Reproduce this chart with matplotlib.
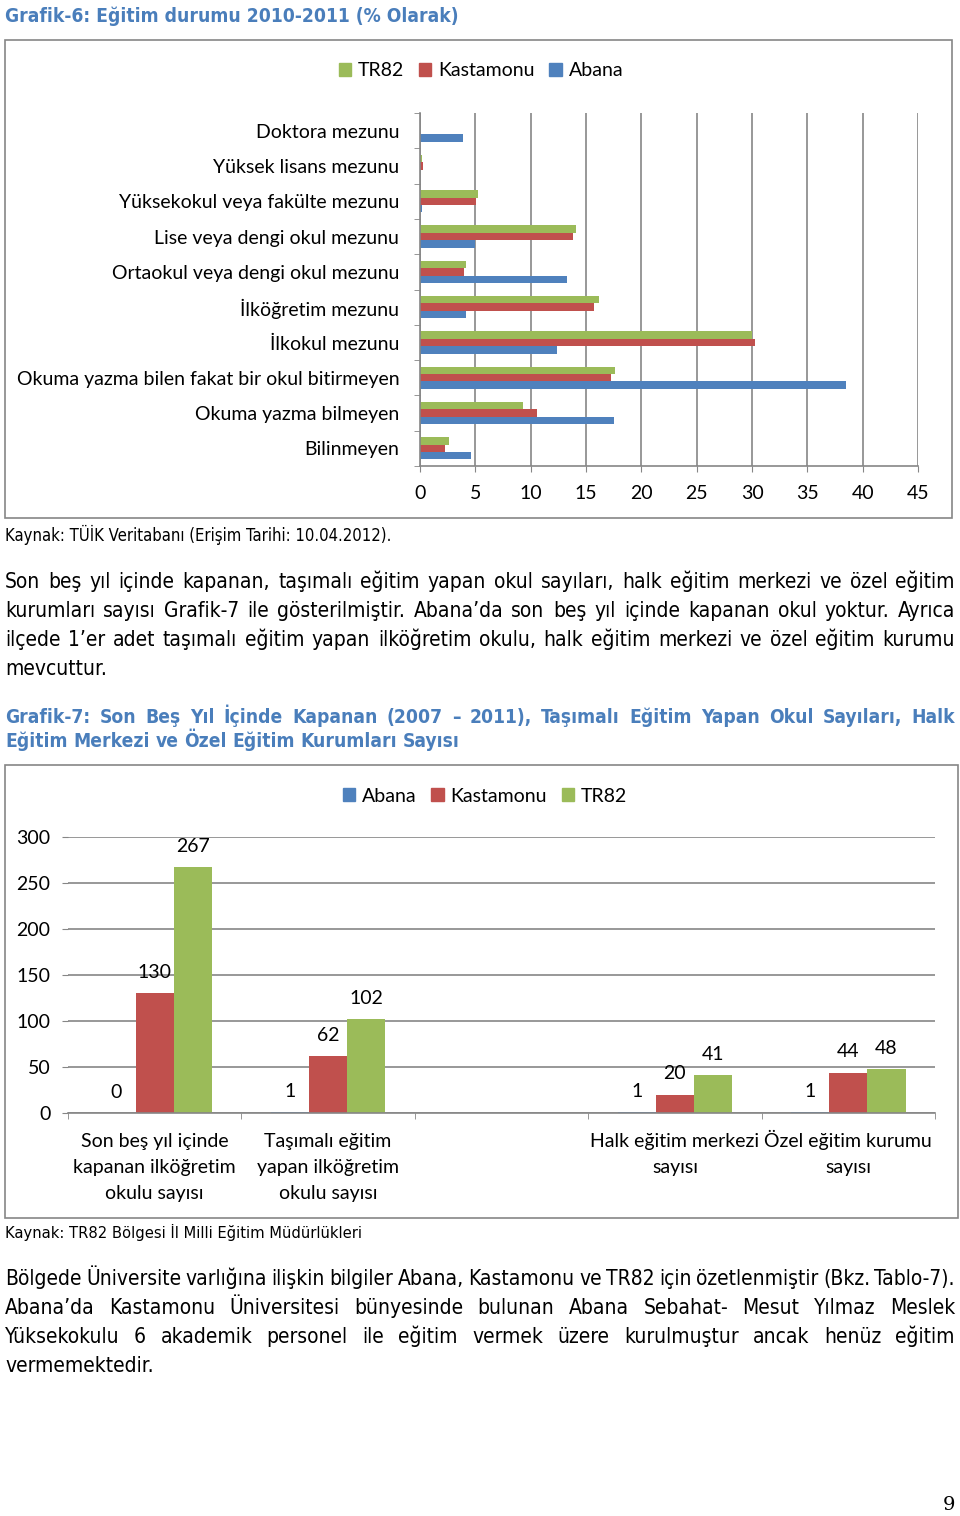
import numpy as np
import matplotlib
matplotlib.use("Agg")
import matplotlib.pyplot as plt
from matplotlib.patches import Rectangle, Patch

# Grafik-6 data (% values)
cats1 = ["Doktora mezunu", "Yüksek lisans mezunu", "Yüksekokul veya fakülte mezunu",
         "Lise veya dengi okul mezunu", "Ortaokul veya dengi okul mezunu",
         "İlköğretim mezunu", "İlkokul mezunu",
         "Okuma yazma bilen fakat bir okul bitirmeyen", "Okuma yazma bilmeyen", "Bilinmeyen"]
tr82_1 = [0.0, 0.2, 5.2, 14.1, 4.2, 16.2, 30.0, 17.6, 9.3, 2.6]
kast_1 = [0.0, 0.3, 5.1, 13.8, 4.0, 15.7, 30.3, 17.3, 10.6, 2.3]
abana_1 = [3.9, 0.0, 0.2, 5.0, 13.3, 4.2, 12.4, 38.5, 17.5, 4.6]
xticks1 = [0, 5, 10, 15, 20, 25, 30, 35, 40, 45]

# Grafik-7 data (third category is empty in the original)
cats2 = ["Son beş yıl içinde\nkapanan ilköğretim\nokulu sayısı",
         "Taşımalı eğitim\nyapan ilköğretim\nokulu sayısı",
         "",
         "Halk eğitim merkezi\nsayısı",
         "Özel eğitim kurumu\nsayısı"]
abana_2 = [0, 1, None, 1, 1]
kast_2 = [130, 62, None, 20, 44]
tr82_2 = [267, 102, None, 41, 48]
yticks2 = [0, 50, 100, 150, 200, 250, 300]

para1 = ["Son beş yıl içinde kapanan, taşımalı eğitim yapan okul sayıları, halk eğitim merkezi ve özel eğitim",
         "kurumları sayısı Grafik-7 ile gösterilmiştir. Abana’da son beş yıl içinde kapanan okul yoktur. Ayrıca",
         "ilçede 1’er adet taşımalı eğitim yapan ilköğretim okulu, halk eğitim merkezi ve özel eğitim kurumu",
         "mevcuttur."]
title2 = ["Grafik-7: Son Beş Yıl İçinde Kapanan (2007 – 2011), Taşımalı Eğitim Yapan Okul Sayıları, Halk",
          "Eğitim Merkezi ve Özel Eğitim Kurumları Sayısı"]
para2 = ["Bölgede Üniversite varlığına ilişkin bilgiler Abana, Kastamonu ve TR82 için özetlenmiştir (Bkz. Tablo-7).",
         "Abana’da Kastamonu Üniversitesi bünyesinde bulunan Abana Sebahat- Mesut Yılmaz Meslek",
         "Yüksekokulu 6 akademik personel ile eğitim vermek üzere kurulmuştur ancak henüz eğitim",
         "vermemektedir."]

BLUE, RED, GREEN = "#4F81BD", "#C0504D", "#9BBB59"
GRID = "#868686"
TITLE_C = "#4A7EBB"
CHART_FONT = "Lato"
FS = 14
BODY = dict(family="DejaVu Sans", fontstretch="condensed")

W, H = 960, 1516


def fx(x):
    return x / W


def fy(y):
    return 1 - y / H


fig = plt.figure(figsize=(W / 100, H / 100), dpi=100)
renderer = fig.canvas.get_renderer()


def frame(x0, y0, x1, y1):
    fig.add_artist(Rectangle((fx(x0), fy(y1)), (x1 - x0) / W, (y1 - y0) / H,
                             transform=fig.transFigure, fill=False,
                             edgecolor=GRID, lw=1.2))


def put_lines(lines, y0, lh, size, x0=5, x1=955, **kw):
    # justified lines (y0 = first baseline), last one left aligned
    for k, line in enumerate(lines):
        words = line.split(" ")
        arts = [fig.text(0, 0, w, fontsize=size, ha="left", va="baseline", **kw) for w in words]
        widths = [a.get_window_extent(renderer).width for a in arts]
        if k == len(lines) - 1 or len(words) == 1:
            gap = size * 100 / 72 * 0.3
        else:
            gap = (x1 - x0 - sum(widths)) / (len(words) - 1)
        x = x0
        for a, w in zip(arts, widths):
            a.set_position((fx(x), fy(y0 + k * lh)))
            x += w + gap


# ---------- Grafik-6 ----------
fig.text(fx(5), fy(16), "Grafik-6: Eğitim durumu 2010-2011 (% Olarak)", fontsize=13.8,
         fontweight="bold", color=TITLE_C, va="center", **BODY)
frame(5, 40, 952, 518)

ax1 = fig.add_axes([fx(420), fy(466), 498 / W, 353 / H])
y = np.arange(len(cats1))
h = 0.21
ax1.barh(y - h, tr82_1, height=h, color=GREEN)
ax1.barh(y, kast_1, height=h, color=RED)
ax1.barh(y + h, abana_1, height=h, color=BLUE)
ax1.set_xlim(0, 45)
ax1.set_ylim(len(cats1) - 0.5, -0.5)
ax1.set_xticks(xticks1)
ax1.set_yticks(y)
ax1.set_yticklabels(cats1, fontsize=FS, family=CHART_FONT)
ax1.set_yticks(np.arange(-0.5, len(cats1)), minor=True)
ax1.set_xticklabels([str(t) for t in xticks1], fontsize=FS, family=CHART_FONT)
ax1.tick_params(axis="y", which="major", length=0, pad=15)
ax1.tick_params(axis="y", which="minor", length=4.5, color=GRID)
ax1.tick_params(axis="x", length=4.5, color=GRID, pad=9)
ax1.grid(axis="x", color=GRID, lw=1.2)
ax1.set_axisbelow(True)
for s in ["top", "right"]:
    ax1.spines[s].set_visible(False)
for s in ["left", "bottom"]:
    ax1.spines[s].set_color(GRID)
    ax1.spines[s].set_linewidth(1.2)

fig.legend(handles=[Patch(color=GREEN, label="TR82"), Patch(color=RED, label="Kastamonu"),
                    Patch(color=BLUE, label="Abana")],
           loc="center", bbox_to_anchor=(fx(481), fy(71)), ncol=3, frameon=False,
           handlelength=0.65, handleheight=0.65, handletextpad=0.35, columnspacing=0.75,
           prop=dict(family=CHART_FONT, size=FS))

fig.text(fx(5), fy(535), "Kaynak: TÜİK Veritabanı (Erişim Tarihi: 10.04.2012).",
         fontsize=12, va="center", **BODY)

put_lines(para1, 588, 29, 15, **BODY)
put_lines(title2, 723, 24, 13.8, fontweight="bold", color=TITLE_C, **BODY)

# ---------- Grafik-7 ----------
frame(5, 765, 958, 1218)
ax2 = fig.add_axes([fx(68), fy(1113), 867 / W, 276 / H])
x = np.arange(len(cats2))
w = 0.22
for off, vals, col in [(-w, abana_2, BLUE), (0, kast_2, RED), (w, tr82_2, GREEN)]:
    idx = [i for i, v in enumerate(vals) if v is not None]
    vv = [vals[i] for i in idx]
    ax2.bar(x[idx] + off, vv, w, color=col)
    for i, v in zip(idx, vv):
        ax2.annotate(str(v), (i + off, v), xytext=(0, 15), textcoords="offset points",
                     ha="center", va="center", fontsize=FS, family=CHART_FONT)
ax2.set_xlim(-0.5, len(cats2) - 0.5)
ax2.set_ylim(0, 300)
ax2.set_yticks(yticks2)
ax2.set_yticklabels([str(t) for t in yticks2], fontsize=FS, family=CHART_FONT)
ax2.set_xticks(x)
ax2.set_xticklabels([])
ax2.set_xticks(np.arange(-0.5, len(cats2)), minor=True)
ax2.tick_params(axis="x", which="major", length=0)
ax2.tick_params(axis="x", which="minor", length=4.5, color=GRID)
ax2.tick_params(axis="y", length=4.5, color=GRID, pad=8)
ax2.grid(axis="y", color=GRID, lw=1.2)
ax2.set_axisbelow(True)
for s in ["top", "right", "left"]:
    ax2.spines[s].set_visible(False)
ax2.spines["bottom"].set_color(GRID)
ax2.spines["bottom"].set_linewidth(1.2)

# category labels, line by line on a common baseline
for i, lab in enumerate(cats2):
    for k, part in enumerate(lab.split("\n")):
        if part:
            ax2.annotate(part, (i, 0), xycoords=("data", "axes fraction"),
                         xytext=(0, -24.5 - k * 18.7), textcoords="offset points",
                         ha="center", va="baseline", fontsize=FS, family=CHART_FONT)

fig.legend(handles=[Patch(color=BLUE, label="Abana"), Patch(color=RED, label="Kastamonu"),
                    Patch(color=GREEN, label="TR82")],
           loc="center", bbox_to_anchor=(fx(485), fy(796)), ncol=3, frameon=False,
           handlelength=0.65, handleheight=0.65, handletextpad=0.35, columnspacing=0.75,
           prop=dict(family=CHART_FONT, size=FS))

fig.text(fx(5), fy(1232), "Kaynak: TR82 Bölgesi İl Milli Eğitim Müdürlükleri",
         fontsize=11.8, va="center", **BODY)

put_lines(para2, 1285, 29, 15, **BODY)

fig.text(fx(955), fy(1505), "9", fontsize=14, family="DejaVu Serif", ha="right", va="center")

fig.savefig("out.png", dpi=100)
